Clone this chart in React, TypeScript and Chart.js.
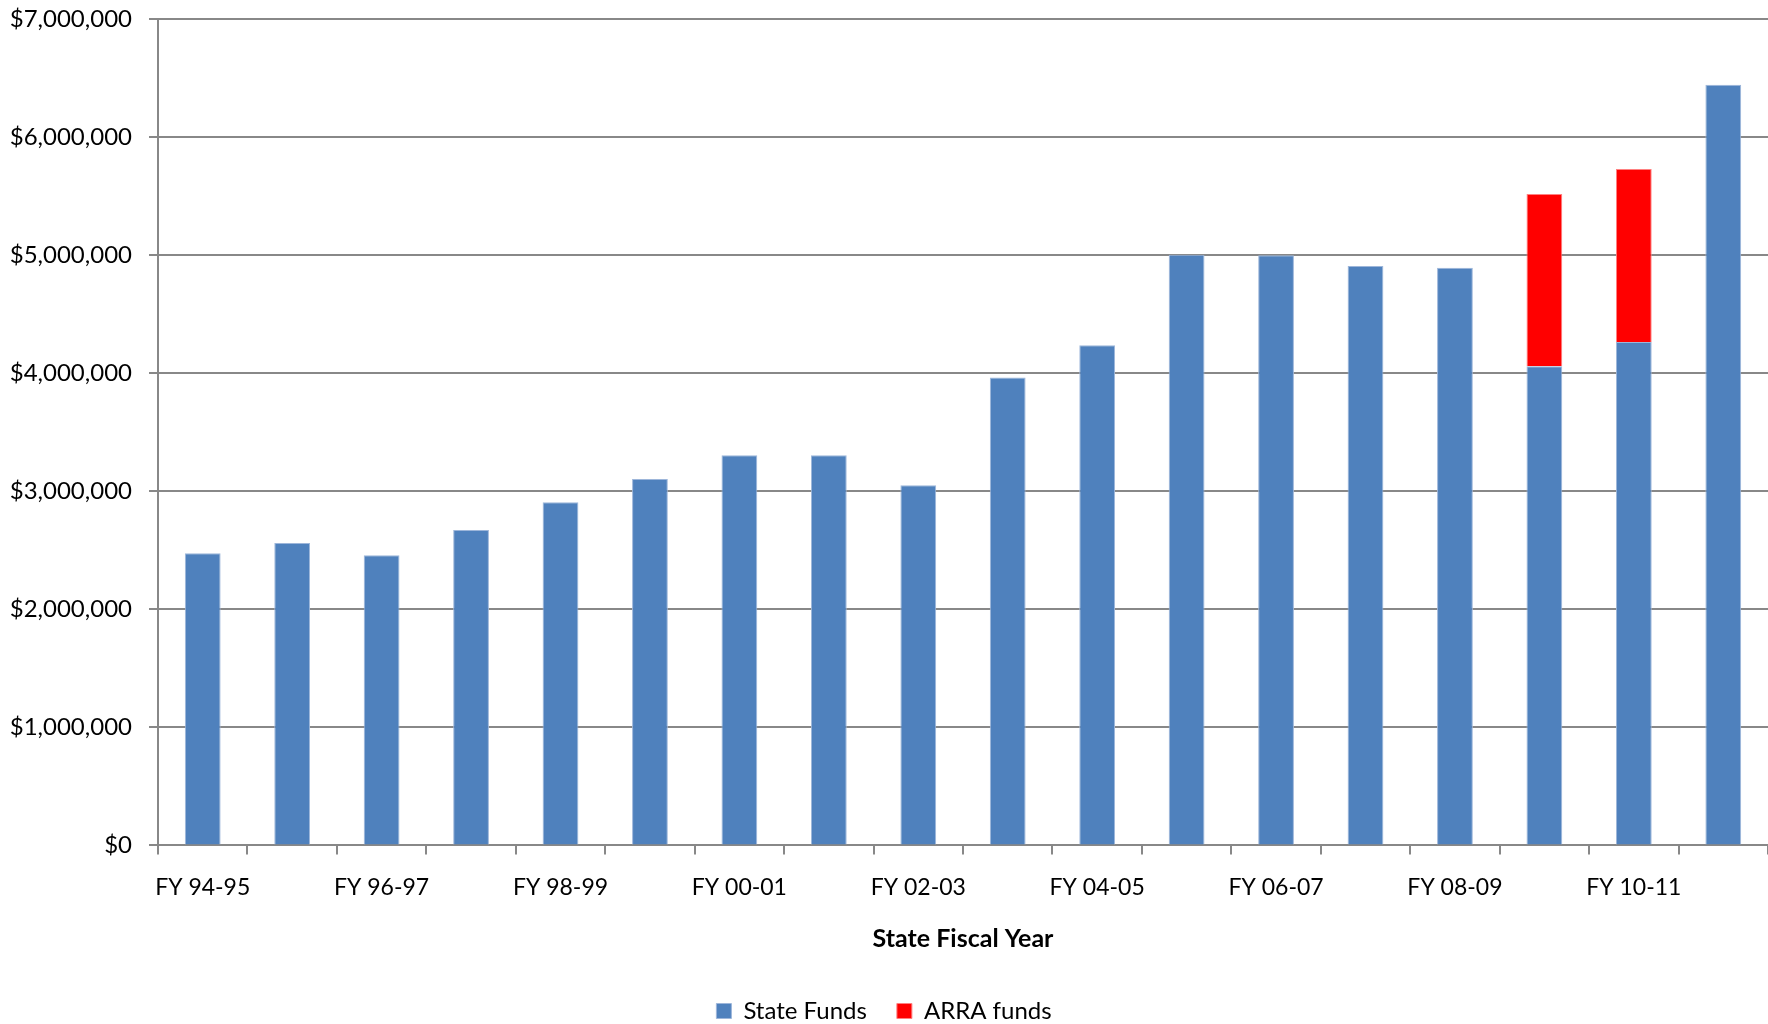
import React, { useEffect, useRef } from "react";
import { Chart, registerables } from "chart.js";

Chart.register(...registerables);

const categories = [
  "FY 94-95", "FY 95-96", "FY 96-97", "FY 97-98", "FY 98-99", "FY 99-00",
  "FY 00-01", "FY 01-02", "FY 02-03", "FY 03-04", "FY 04-05", "FY 05-06",
  "FY 06-07", "FY 07-08", "FY 08-09", "FY 09-10", "FY 10-11", "FY 11-12",
];

const stateFunds = [
  2475000, 2562000, 2458000, 2672000, 2907000, 3104000,
  3305000, 3305000, 3051000, 3963000, 4237000, 5003000,
  4998000, 4907000, 4892000, 4059000, 4263000, 6443000,
];

const arraFunds = [
  0, 0, 0, 0, 0, 0,
  0, 0, 0, 0, 0, 0,
  0, 0, 0, 1458000, 1466000, 0,
];

const yTicks = [0, 1000000, 2000000, 3000000, 4000000, 5000000, 6000000, 7000000];

const FONT = "Lato, 'Open Sans', sans-serif";

export default function App() {
  const ref = useRef<HTMLCanvasElement | null>(null);

  useEffect(() => {
    document.body.style.margin = "0";
    const canvas = ref.current;
    if (!canvas) return;
    const chart = new Chart(canvas, {
      type: "bar",
      data: {
        labels: categories,
        datasets: [
          {
            label: "State Funds",
            data: stateFunds,
            backgroundColor: "#4F81BD",
            borderColor: "#9DB6DA",
            borderWidth: 1,
            categoryPercentage: 1,
            barPercentage: 0.4,
          },
          {
            label: "ARRA funds",
            data: arraFunds,
            backgroundColor: "#FF0000",
            borderColor: "#FF8080",
            borderWidth: 1,
            categoryPercentage: 1,
            barPercentage: 0.4,
          },
        ],
      },
      options: {
        animation: false,
        responsive: false,
        devicePixelRatio: 1,
        layout: { padding: { top: 19, right: 0, left: 0, bottom: 0 } },
        plugins: {
          legend: {
            position: "bottom",
            labels: {
              boxWidth: 15,
              boxHeight: 15,
              padding: 30,
              color: "#000",
              font: { family: FONT, size: 24 },
            },
          },
          tooltip: { enabled: false },
        },
        scales: {
          x: {
            stacked: true,
            offset: true,
            grid: {
              offset: true,
              drawOnChartArea: false,
              drawTicks: true,
              tickLength: 9,
              color: "#888888",
              lineWidth: 2,
            },
            border: { color: "#888888", width: 2 },
            ticks: {
              autoSkip: false,
              maxRotation: 0,
              minRotation: 0,
              padding: 19,
              color: "#000",
              font: { family: FONT, size: 23 },
              callback: (_v: any, i: number) => (i % 2 === 0 ? categories[i] : ""),
            },
            title: {
              display: true,
              text: "State Fiscal Year",
              color: "#000",
              font: { family: FONT, size: 25, weight: "bold" },
              padding: { top: 4, bottom: 15 },
            },
          },
          y: {
            stacked: true,
            min: 0,
            max: 7000000,
            afterBuildTicks: (scale: any) => {
              scale.ticks = yTicks.map((v) => ({ value: v }));
            },
            afterFit: (scale: any) => {
              scale.width = 158;
              scale.paddingTop = 0;
              scale.paddingBottom = 0;
            },
            grid: {
              color: "#888888",
              lineWidth: 2,
              tickLength: 9,
              drawTicks: true,
            },
            border: { color: "#888888", width: 2 },
            ticks: {
              padding: 17,
              color: "#000",
              font: { family: FONT, size: 24 },
              callback: (v: any) => "$" + Number(v).toLocaleString("en-US"),
            },
          },
        },
      },
    });
    return () => chart.destroy();
  }, []);

  return (
    <div style={{ position: "absolute", left: 0, top: 0, width: 1768, height: 1024, overflow: "hidden", background: "#fff" }}>
      <canvas ref={ref} width={1768} height={1033} style={{ width: 1768, height: 1033, display: "block" }} />
    </div>
  );
}
